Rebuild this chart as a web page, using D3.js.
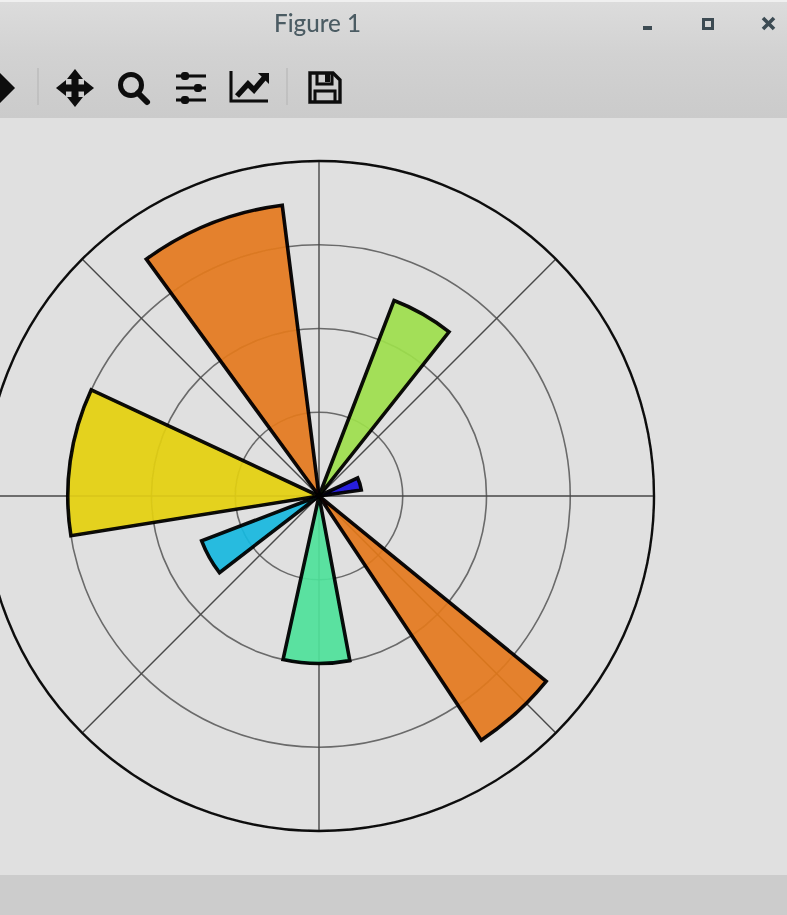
<!DOCTYPE html>
<html><head><meta charset="utf-8">
<script src="https://cdn.jsdelivr.net/npm/d3@7/dist/d3.min.js"></script>
<style>html,body{margin:0;padding:0;background:#e0e0e0;overflow:hidden}svg{display:block}</style>
</head><body><svg id="c" width="787" height="915"></svg>
<script>
const startDeg=[8,51.6,97.2,155,200.9,257.6,303.6];
const endDeg=[25,69,126.1,189.1,217.6,280.6,320.8];
const radii=[0.51,2.5,3.5,3.0,1.5,2.0,3.5];
const colors=["#1a0ce0","#9de04c","#e47a1c","#e4d010","#16b8e0","#4ee29a","#e47a1c"];
const ringTicks=[1,2,3,4];
const spokeDeg=[0,45,90,135,180,225,270,315];
const title="Figure 1";

const svg=d3.select("#c");
const defs=svg.append("defs");
const grad=defs.append("linearGradient").attr("id","bar").attr("x1",0).attr("x2",0).attr("y1",0).attr("y2",1);
grad.append("stop").attr("offset",0).attr("stop-color","#dcdcdc");
grad.append("stop").attr("offset",0.45).attr("stop-color","#d2d2d2");
grad.append("stop").attr("offset",1).attr("stop-color","#cbcbcb");
defs.append("filter").attr("id","soft").append("feGaussianBlur").attr("stdDeviation",0.55);
defs.append("filter").attr("id","softText").append("feGaussianBlur").attr("stdDeviation",0.4);

// window chrome
svg.append("rect").attr("width",787).attr("height",915).attr("fill","#e0e0e0");
svg.append("rect").attr("y",2).attr("width",787).attr("height",116).attr("fill","url(#bar)");
svg.append("rect").attr("y",0).attr("width",787).attr("height",2).attr("fill","#f0f0f0");
svg.append("rect").attr("y",875).attr("width",787).attr("height",40).attr("fill","#cccccc");
svg.append("text").attr("x",274).attr("y",32)
  .attr("textLength",87).attr("lengthAdjust","spacingAndGlyphs")
  .attr("font-family","Lato, Open Sans, sans-serif").attr("font-size",24).attr("font-weight",500)
  .attr("fill","#4c5c64").attr("filter","url(#softText)").text(title);

const tb=svg.append("g").attr("filter","url(#soft)");
// window buttons
tb.append("rect").attr("x",643).attr("y",26).attr("width",9).attr("height",4).attr("fill","#3c4c53");
tb.append("rect").attr("x",703.5).attr("y",19.5).attr("width",9).attr("height",9).attr("fill","none").attr("stroke","#3c4c53").attr("stroke-width",3);
tb.append("path").attr("d","M763,18L774,29M774,18L763,29").attr("stroke","#3c4c53").attr("stroke-width",3.6).attr("fill","none");
// toolbar
const ink="#0c0c0c";
tb.append("path").attr("d","M0,73L15,88L0,103L-10,88Z").attr("fill",ink);
tb.append("path").attr("d","M38,68V105M287,68V105").attr("stroke","#bdbdbd").attr("stroke-width",1.5);
tb.append("path").attr("d","M75,69L83,79H78.5V84.5H84V80L94,88L84,96V91.5H78.5V97H83L75,107L67,97H71.5V91.5H66V96L56,88L66,80V84.5H71.5V79H67Z").attr("fill",ink);
tb.append("circle").attr("cx",131).attr("cy",85).attr("r",10.5).attr("fill","none").attr("stroke",ink).attr("stroke-width",5);
tb.append("path").attr("d","M138,93L147,102").attr("stroke",ink).attr("stroke-width",6).attr("stroke-linecap","round");
tb.append("path").attr("d","M176,76H206M176,88H206M176,100H206").attr("stroke",ink).attr("stroke-width",3);
tb.append("rect").attr("x",181).attr("y",72).attr("width",8).attr("height",8).attr("rx",3).attr("fill",ink);
tb.append("rect").attr("x",194).attr("y",84).attr("width",8).attr("height",8).attr("rx",3).attr("fill",ink);
tb.append("rect").attr("x",181).attr("y",96).attr("width",8).attr("height",8).attr("rx",3).attr("fill",ink);
tb.append("path").attr("d","M231,71V101H268").attr("fill","none").attr("stroke",ink).attr("stroke-width",3);
tb.append("path").attr("d","M237,96L248,84L254,90L265,77").attr("fill","none").attr("stroke",ink).attr("stroke-width",5.5);
tb.append("path").attr("d","M258,73H269V84Z").attr("fill",ink);
tb.append("path").attr("d","M310,73H333L340,80V102H310Z").attr("fill","none").attr("stroke",ink).attr("stroke-width",3.4);
tb.append("path").attr("d","M317,73V84H332V73").attr("fill","none").attr("stroke",ink).attr("stroke-width",3);
tb.append("rect").attr("x",325).attr("y",74).attr("width",5).attr("height",8).attr("fill",ink);
tb.append("path").attr("d","M315,102V91H335V102").attr("fill","none").attr("stroke",ink).attr("stroke-width",3);

// polar chart
const cx=319,cy=496;
const r=d3.scaleLinear().domain([0,4]).range([0,335]);
const ang=d3.scaleLinear().domain([0,360]).range([Math.PI/2,Math.PI/2-2*Math.PI]);
const g=svg.append("g").attr("transform",`translate(${cx},${cy})`).attr("filter","url(#soft)");
g.selectAll("circle.ring").data(ringTicks.filter(d=>d<4)).join("circle").attr("class","ring")
  .attr("r",d=>r(d)).attr("fill","none").attr("stroke","#6a6a6a").attr("stroke-width",1.6);
g.selectAll("line.spoke").data(spokeDeg).join("line").attr("class","spoke")
  .attr("x2",d=>r(4)*Math.sin(ang(d))).attr("y2",d=>-r(4)*Math.cos(ang(d)))
  .attr("stroke","#484848").attr("stroke-width",1.4);
const arc=d3.arc().innerRadius(0);
g.selectAll("path.bar").data(radii).join("path").attr("class","bar")
  .attr("d",(d,i)=>arc({outerRadius:r(d),startAngle:ang(startDeg[i]),endAngle:ang(endDeg[i])}))
  .attr("fill",(d,i)=>colors[i]).attr("fill-opacity",0.92)
  .attr("stroke","#000000").attr("stroke-opacity",0.95).attr("stroke-width",3.6).attr("stroke-linejoin","miter");
g.append("circle").attr("r",r(4)).attr("fill","none").attr("stroke","#0c0c0c").attr("stroke-width",2.4);
</script></body></html>
